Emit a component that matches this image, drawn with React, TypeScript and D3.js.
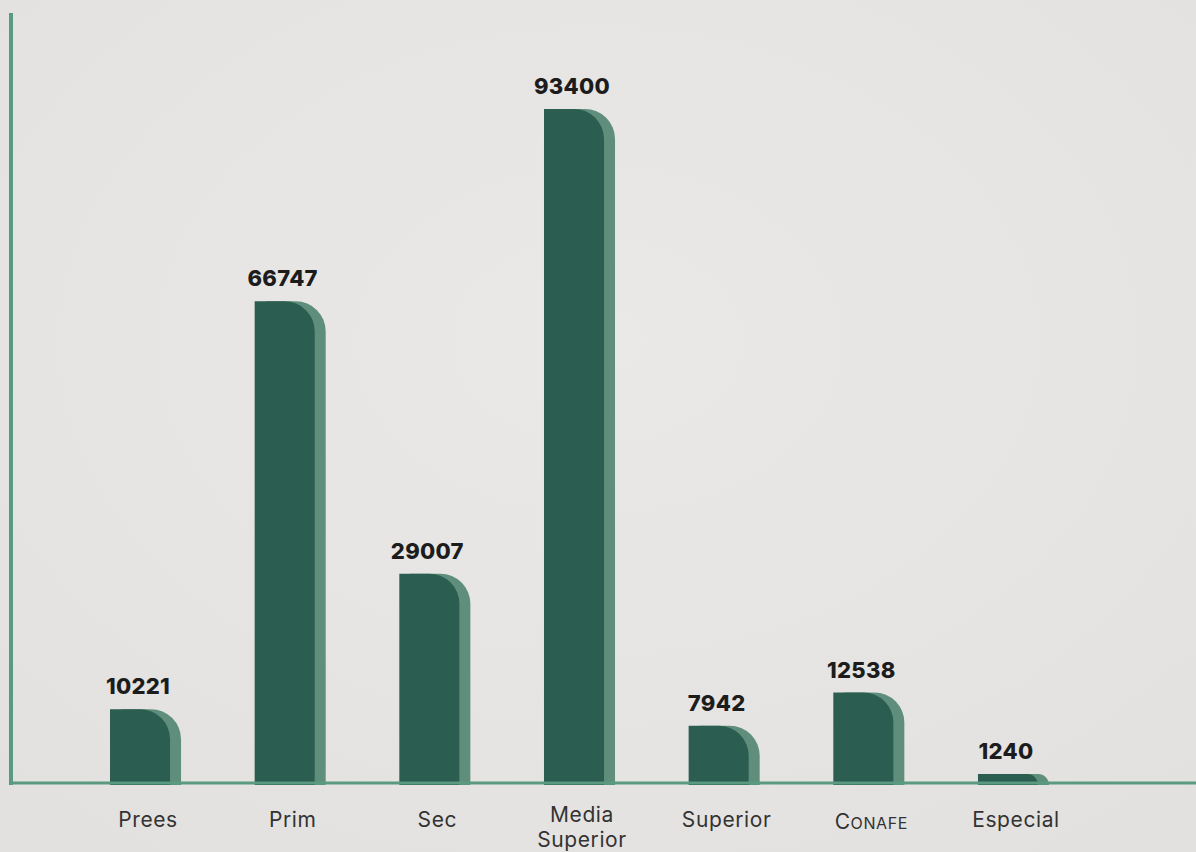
import React from "react";
import * as d3 from "d3";

const categories = ["Prees", "Prim", "Sec", "Media Superior", "Superior", "CONAFE", "Especial"];
const values = [10221, 66747, 29007, 93400, 7942, 12538, 1240];

const W = 1196;
const H = 852;
const BASE = 783;

export default function App() {
  const x = d3.scaleBand<string>().domain(categories).range([110, 1038]).paddingInner(0.585).paddingOuter(0);
  const y = d3.scaleLinear().domain([0, 93400]).range([BASE, 109]);
  const bw = x.bandwidth();
  const shadowOff = 11;

  const barPath = (x0: number, top: number) => {
    const h = BASE + 2 - top;
    const r = Math.min(bw / 2, h);
    const p = d3.path();
    p.moveTo(x0, BASE + 2);
    p.lineTo(x0, top);
    p.lineTo(x0 + bw - r, top);
    p.arcTo(x0 + bw, top, x0 + bw, top + r, r);
    p.lineTo(x0 + bw, BASE + 2);
    p.closePath();
    return p.toString();
  };

  return (
    <svg width={W} height={H} style={{ position: "absolute", left: 0, top: 0, display: "block" }}>
      <defs>
        <radialGradient id="bg" cx="50%" cy="40%" r="75%">
          <stop offset="0%" stopColor="#ebe9e7" />
          <stop offset="100%" stopColor="#e3e1df" />
        </radialGradient>
      </defs>
      <rect x={0} y={0} width={W} height={H} fill="url(#bg)" />
      {categories.map((c, i) => {
        const x0 = x(c)!;
        const top = y(values[i]);
        return (
          <g key={c}>
            <path d={barPath(x0 + shadowOff, top)} fill="#5f8e7c" />
            <path d={barPath(x0, top)} fill="#2b5e50" />
            <text
              x={x0 + bw / 2 - 2}
              y={top - 15}
              textAnchor="middle"
              fontFamily="Inter, 'Open Sans', sans-serif"
              fontWeight={800}
              fontSize={22}
              letterSpacing={0.3}
              fill="#1c1c1c"
            >
              {values[i]}
            </text>
          </g>
        );
      })}
      <line x1={11} x2={11} y1={13} y2={BASE + 2} stroke="#5a9a80" strokeWidth={4} />
      <line x1={9} x2={W} y1={BASE} y2={BASE} stroke="#5a9a80" strokeWidth={3} />
      {categories.map((c) => {
        const cx = x(c)! + 38;
        const common = {
          fontFamily: "Inter, 'Open Sans', sans-serif",
          fontSize: 21,
          fill: "#333333",
          textAnchor: "middle" as const,
          letterSpacing: 0.6,
        };
        if (c === "Media Superior") {
          return (
            <g key={c}>
              <text x={cx} y={822} {...common}>Media</text>
              <text x={cx} y={847} {...common}>Superior</text>
            </g>
          );
        }
        if (c === "CONAFE") {
          return (
            <text key={c} x={cx} y={829} {...common}>
              <tspan>C</tspan>
              <tspan fontSize={16}>ONAFE</tspan>
            </text>
          );
        }
        return (
          <text key={c} x={cx} y={827} {...common}>{c}</text>
        );
      })}
    </svg>
  );
}
